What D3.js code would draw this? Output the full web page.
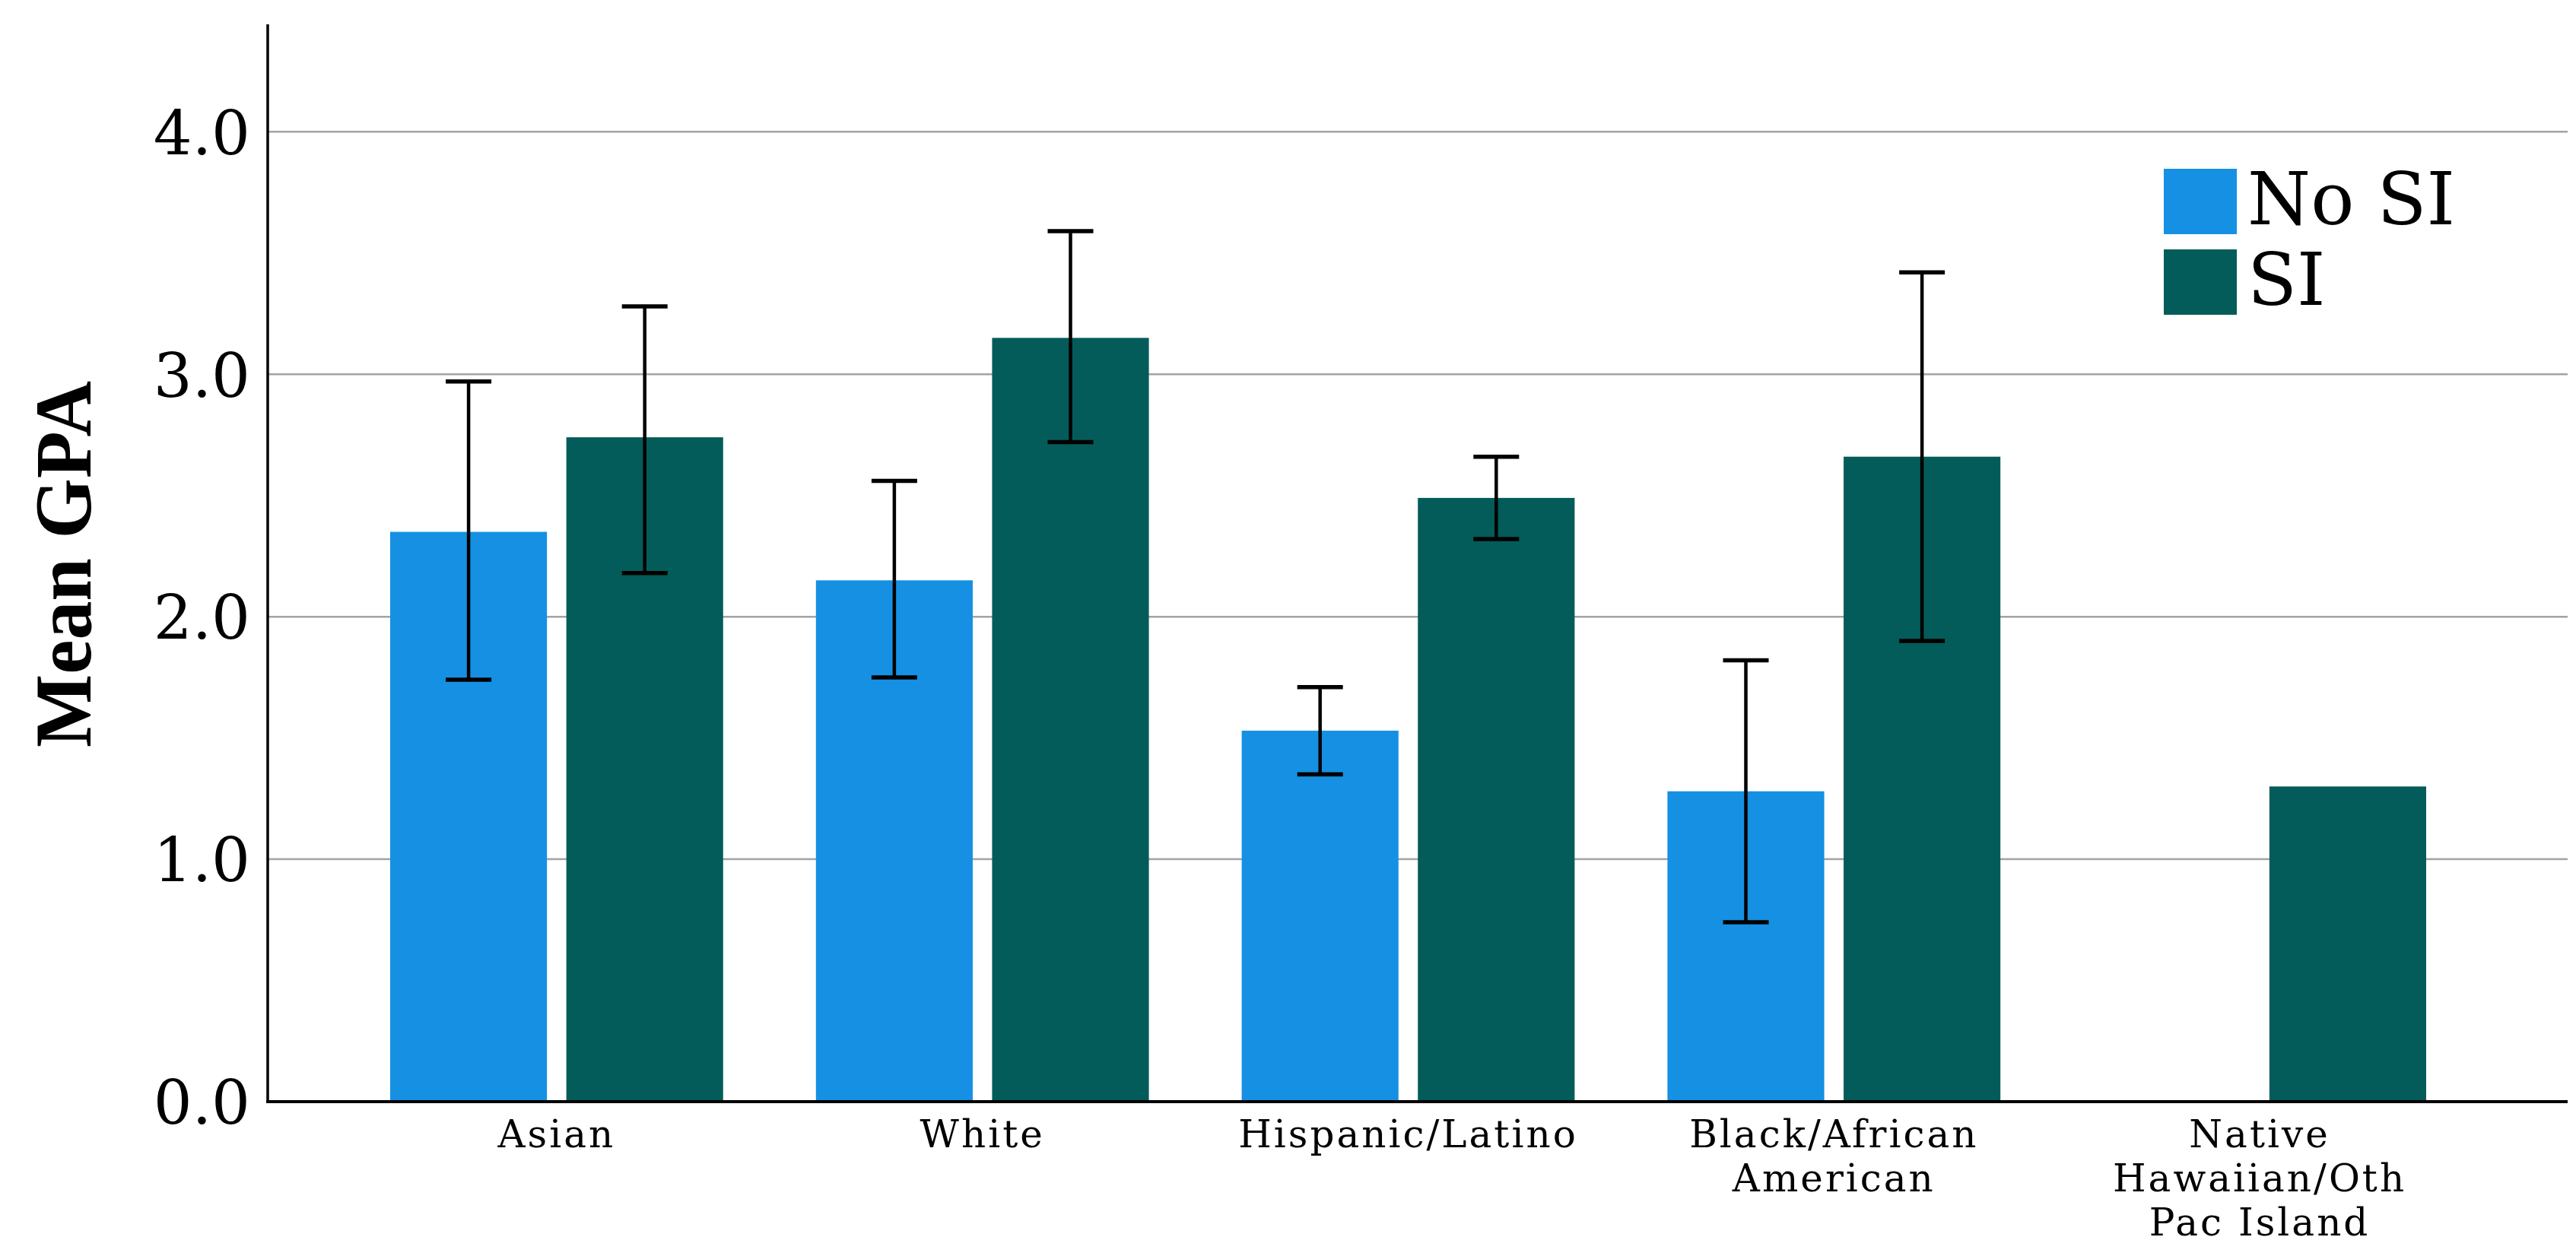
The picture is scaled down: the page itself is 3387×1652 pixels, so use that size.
<!DOCTYPE html>
<html>
<head>
<meta charset="utf-8">
<script src="https://cdn.jsdelivr.net/npm/d3@7"></script>
<style>
  html, body { margin: 0; padding: 0; background: #ffffff; }
  svg { display: block; }
</style>
</head>
<body>
<svg id="chart" width="3387" height="1652"></svg>
<script>
// ---- data ----
const categories = ["Asian", "White", "Hispanic/Latino", "Black/African American", "Native Hawaiian/Oth Pac Island"];
const categoryLines = [["Asian"], ["White"], ["Hispanic/Latino"], ["Black/African", "American"], ["Native", "Hawaiian/Oth", "Pac Island"]];
const seriesNames = ["No SI", "SI"];
const noSIMean = [2.35, 2.15, 1.53, 1.28, null];
const siMean   = [2.74, 3.15, 2.49, 2.66, 1.30];
const noSILow  = [1.74, 1.75, 1.35, 0.74, null];
const noSIHigh = [2.97, 2.56, 1.71, 1.82, null];
const siLow    = [2.18, 2.72, 2.32, 1.90, null];
const siHigh   = [3.28, 3.59, 2.66, 3.42, null];
const yTicks = [0, 1, 2, 3, 4];
const yTickLabels = ["0.0", "1.0", "2.0", "3.0", "4.0"];
const yTitle = "Mean GPA";
const colors = ["#1590E3", "#035C59"];

// ---- layout ----
const svg = d3.select("#chart");
const axisX = 352, axisRight = 3376, axisBottom = 1449, axisTop = 32;

const y = d3.scaleLinear().domain([0, 4.44]).range([axisBottom, 33]);
const x0 = d3.scaleBand().domain(categories).range([452, 3251]).paddingInner(0.218).paddingOuter(0.109);
const x1 = d3.scaleBand().domain(seriesNames).range([0, x0.bandwidth()]).paddingInner(0.11);

const rows = [];
categories.forEach((c, i) => {
  rows.push({cat: c, s: "No SI", v: noSIMean[i], lo: noSILow[i], hi: noSIHigh[i], ci: 0});
  rows.push({cat: c, s: "SI", v: siMean[i], lo: siLow[i], hi: siHigh[i], ci: 1});
});

// gridlines
svg.append("g").selectAll("line")
  .data(yTicks.filter(t => t > 0))
  .join("line")
  .attr("x1", axisX).attr("x2", axisRight)
  .attr("y1", d => y(d)).attr("y2", d => y(d))
  .attr("stroke", "#a3a3a3").attr("stroke-width", 2.5);

// bars
svg.append("g").selectAll("rect")
  .data(rows.filter(r => r.v != null))
  .join("rect")
  .attr("x", d => x0(d.cat) + x1(d.s))
  .attr("width", x1.bandwidth())
  .attr("y", d => y(d.v))
  .attr("height", d => y(0) - y(d.v))
  .attr("fill", d => colors[d.ci]);

// error bars
const eb = svg.append("g").attr("stroke", "#000").attr("stroke-width", 4.5);
const ebRows = rows.filter(r => r.lo != null);
const cx = d => x0(d.cat) + x1(d.s) + x1.bandwidth() / 2;
eb.selectAll("line.v").data(ebRows).join("line").attr("class", "v")
  .attr("x1", cx).attr("x2", cx).attr("y1", d => y(d.lo)).attr("y2", d => y(d.hi));
eb.selectAll("line.t").data(ebRows).join("line").attr("class", "t")
  .attr("x1", d => cx(d) - 30).attr("x2", d => cx(d) + 30).attr("y1", d => y(d.hi)).attr("y2", d => y(d.hi))
  .attr("stroke-width", 5.5);
eb.selectAll("line.b").data(ebRows).join("line").attr("class", "b")
  .attr("x1", d => cx(d) - 30).attr("x2", d => cx(d) + 30).attr("y1", d => y(d.lo)).attr("y2", d => y(d.lo))
  .attr("stroke-width", 5.5);

// y axis
const yAxis = d3.axisLeft(y).tickValues(yTicks).tickFormat((d, i) => yTickLabels[i]).tickSize(0).tickPadding(23);
const gy = svg.append("g").attr("transform", `translate(${axisX},0)`).call(yAxis);
gy.select(".domain").remove();
gy.selectAll("text")
  .attr("font-family", "'DejaVu Serif', serif")
  .attr("font-size", 80)
  .attr("fill", "#000")
  .attr("dy", "0.36em");
svg.append("line").attr("x1", axisX).attr("x2", axisX).attr("y1", axisTop).attr("y2", axisBottom + 2)
  .attr("stroke", "#000").attr("stroke-width", 3.5);

// x axis
svg.append("line").attr("x1", axisX - 2).attr("x2", axisRight).attr("y1", axisBottom).attr("y2", axisBottom)
  .attr("stroke", "#000").attr("stroke-width", 4);
const xg = svg.append("g");
categories.forEach((c, i) => {
  categoryLines[i].forEach((ln, j) => {
    xg.append("text")
      .attr("x", x0(c) + x0.bandwidth() / 2)
      .attr("y", 1509 + j * 58)
      .attr("text-anchor", "middle")
      .attr("font-family", "'DejaVu Serif', serif")
      .attr("font-size", 50)
      .attr("letter-spacing", 3)
      .attr("fill", "#000")
      .text(ln);
  });
});

// y title
svg.append("text")
  .attr("transform", "translate(119,742) rotate(-90)")
  .attr("text-anchor", "middle")
  .attr("font-family", "'Liberation Serif', serif")
  .attr("font-weight", "bold")
  .attr("font-size", 106)
  .attr("textLength", 482)
  .attr("lengthAdjust", "spacingAndGlyphs")
  .attr("fill", "#000")
  .text(yTitle);

// legend
const lg = svg.append("g");
seriesNames.forEach((s, i) => {
  const top = 222 + i * 106;
  lg.append("rect").attr("x", 2845).attr("y", top).attr("width", 96).attr("height", 86).attr("fill", colors[i]);
  lg.append("text").attr("x", 2955).attr("y", top + 73)
    .attr("font-family", "'DejaVu Serif', serif").attr("font-size", 95).attr("fill", "#000").text(s);
});
</script>
</body>
</html>
